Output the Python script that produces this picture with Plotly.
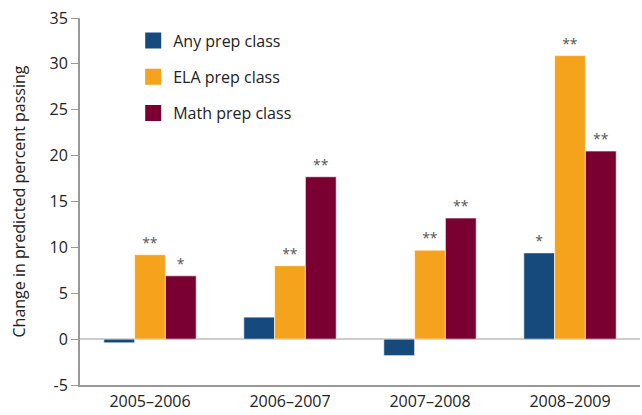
import plotly.graph_objects as go

categories = ["2005–2006", "2006–2007", "2007–2008", "2008–2009"]
any_prep = [-0.4, 2.4, -1.8, 9.4]
ela_prep = [9.2, 8.0, 9.7, 30.9]
math_prep = [6.9, 17.7, 13.2, 20.5]
any_sig = ["", "", "", "*"]
ela_sig = ["**", "**", "**", "**"]
math_sig = ["*", "**", "**", "**"]
series_names = ["Any prep class", "ELA prep class", "Math prep class"]
colors = ["#174a7c", "#f5a21d", "#7b0032"]
y_tick_vals = [-5, 0, 5, 10, 15, 20, 25, 30, 35]
y_tick_text = ["-5", "0", "5", "10", "15", "20", "25", "30", "35"]

FONT = "Open Sans, Noto Sans, sans-serif"
fig = go.Figure()
for name, vals, sig, col in zip(series_names, [any_prep, ela_prep, math_prep],
                                [any_sig, ela_sig, math_sig], colors):
    fig.add_trace(go.Bar(
        x=categories, y=vals, name=name, marker_color=col,
        marker_line=dict(color="rgba(255,255,255,0.6)", width=1),
        text=sig, textposition="outside", cliponaxis=False,
        textfont=dict(size=14, color="#555555", family=FONT),
        showlegend=False,
    ))
    fig.add_trace(go.Scatter(
        x=[categories[0]], y=[None], mode="markers", name=name,
        marker=dict(symbol="square", size=16, color=col),
        legendgroup=name, showlegend=True,
    ))

fig.update_layout(
    width=642, height=415,
    margin=dict(l=80, r=2, t=18, b=30),
    paper_bgcolor="white", plot_bgcolor="white",
    barmode="group", bargap=0.34, bargroupgap=0,
    font=dict(family=FONT, size=16, color="#222222"),
    legend=dict(x=0.095, y=0.985, xanchor="left", yanchor="top",
                bgcolor="rgba(0,0,0,0)", tracegroupgap=12.5,
                font=dict(size=16, color="#222222", family=FONT)),
    xaxis=dict(showline=True, linecolor="#999999", linewidth=2,
               ticks="", showgrid=False, ticklabelstandoff=1, automargin=False,
               tickfont=dict(size=16, color="#222222")),
    yaxis=dict(range=[-5, 35], tickvals=y_tick_vals, ticktext=y_tick_text,
               showgrid=False,
               showline=True, linecolor="#999999", linewidth=2,
               ticks="outside", ticklen=7, tickcolor="#999999",
               zeroline=True, zerolinecolor="#cccccc", zerolinewidth=2,
               tickfont=dict(size=16, color="#222222"),
               title=dict(text="Change in predicted percent passing",
                          font=dict(size=16, color="#222222"), standoff=20)),
)
fig.write_html("out.html", config={"displayModeBar": False},
               post_script="document.body.style.margin='0';")
